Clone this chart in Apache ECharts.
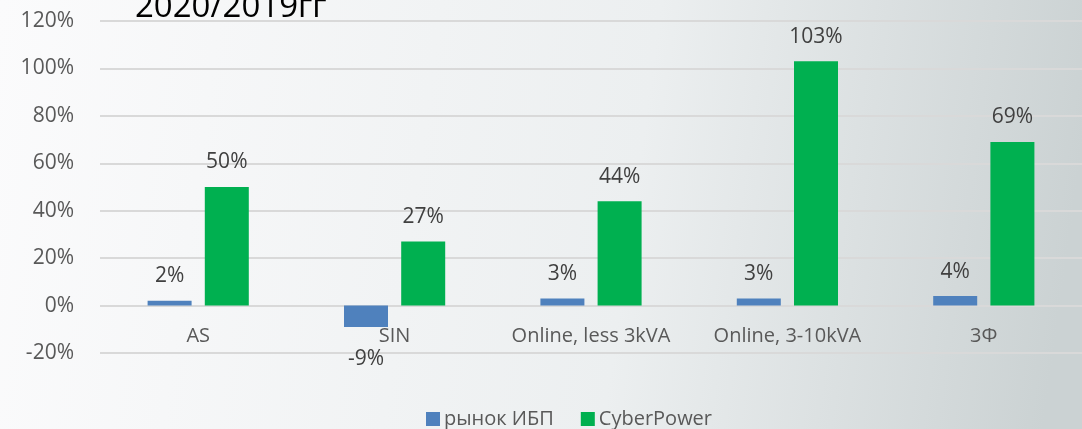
<!DOCTYPE html>
<html>
<head>
<meta charset="utf-8">
<script src="https://cdn.jsdelivr.net/npm/echarts@6/dist/echarts.min.js"></script>
<style>
  html, body { margin: 0; padding: 0; }
  #chart { width: 1082px; height: 429px; }
</style>
</head>
<body>
<div id="chart"></div>
<script>
const categories = ['AS', 'SIN', 'Online, less 3kVA', 'Online, 3-10kVA', '3Ф'];
const marketValues = [2, -9, 3, 3, 4];
const cyberValues = [50, 27, 44, 103, 69];
const seriesNames = ['рынок ИБП', 'CyberPower'];

const font = '"Open Sans", sans-serif';

// negative bars get their label under the bar
const toItems = (arr) =>
  arr.map((v) => ({
    value: v,
    label: v < 0 ? { position: 'bottom', distance: 22 } : { position: 'top', distance: 14 },
  }));

const chart = echarts.init(document.getElementById('chart'));

chart.setOption({
  backgroundColor: new echarts.graphic.LinearGradient(0, 0, 1, 0.35, [
    { offset: 0, color: '#fbfbfc' },
    { offset: 0.6, color: '#eceff0' },
    { offset: 1, color: '#cbd2d3' },
  ]),
  title: {
    text: '2020/2019гг',
    left: 130,
    top: -14,
    textStyle: {
      fontFamily: font,
      fontSize: 33,
      fontWeight: 400,
      color: '#000',
    },
  },
  legend: {
    data: seriesNames,
    left: 421,
    top: 404,
    itemWidth: 14,
    itemHeight: 14,
    itemGap: 27,
    icon: 'rect',
    textStyle: {
      fontFamily: font,
      fontSize: 20,
      color: '#595959',
      padding: [0, 0, 0, -1],
    },
  },
  grid: {
    left: 100,
    right: -18,
    top: 21,
    bottom: 76,
    containLabel: false,
  },
  xAxis: {
    type: 'category',
    data: categories,
    axisTick: { show: false },
    axisLine: { show: false },
    // the labels sit just under the 0% line, i.e. above the -20% bottom edge
    axisLabel: {
      interval: 0,
      fontFamily: font,
      fontSize: 20,
      color: '#595959',
      margin: -27,
    },
  },
  yAxis: {
    type: 'value',
    min: -20,
    max: 120,
    interval: 20,
    axisTick: { show: false },
    axisLine: { show: false },
    splitLine: {
      lineStyle: { color: '#d9d9d9', width: 2 },
    },
    axisLabel: {
      fontFamily: font,
      fontSize: 21,
      color: '#595959',
      margin: 26,
      formatter: '{value}%',
    },
  },
  series: [
    {
      name: seriesNames[0],
      type: 'bar',
      data: toItems(marketValues),
      barWidth: 44,
      barGap: '30%',
      itemStyle: { color: '#4f81bd' },
      label: {
        show: true,
        formatter: '{c}%',
        fontFamily: font,
        fontSize: 21,
        color: '#404040',
      },
    },
    {
      name: seriesNames[1],
      type: 'bar',
      data: toItems(cyberValues),
      barWidth: 44,
      itemStyle: { color: '#00b050' },
      label: {
        show: true,
        formatter: '{c}%',
        fontFamily: font,
        fontSize: 21,
        color: '#404040',
      },
    },
  ],
});
</script>
</body>
</html>
